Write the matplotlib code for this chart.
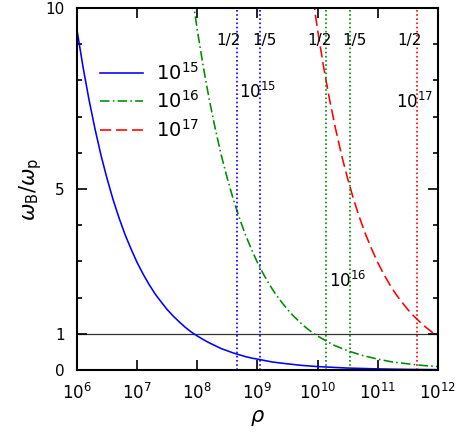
import numpy as np
import matplotlib
matplotlib.use("Agg")
import matplotlib.pyplot as plt
from matplotlib.ticker import FixedLocator, LogFormatterMathtext, NullLocator

# ---------- data ----------
# log10(rho) and omega_B/omega_p for the three field strengths
logrho_15 = [6.0, 6.1, 6.2, 6.3, 6.4, 6.5, 6.6, 6.7, 6.8, 6.9,
             7.0, 7.1, 7.2, 7.3, 7.4, 7.5, 7.6, 7.7, 7.8, 7.9,
             8.0, 8.1, 8.2, 8.3, 8.4, 8.5, 8.6, 8.7, 8.8, 8.9,
             9.0, 9.25, 9.5, 9.75, 10.0, 10.5, 11.0, 11.5, 12.0]
ratio_15 = [9.40, 8.38, 7.47, 6.66, 5.93, 5.29, 4.71, 4.20, 3.74, 3.34,
            2.97, 2.65, 2.36, 2.10, 1.88, 1.67, 1.49, 1.33, 1.18, 1.05,
            0.94, 0.84, 0.75, 0.67, 0.59, 0.53, 0.47, 0.42, 0.37, 0.33,
            0.30, 0.22, 0.17, 0.125, 0.094, 0.053, 0.030, 0.017, 0.009]

logrho_16 = [7.9, 8.0, 8.1, 8.2, 8.3, 8.4, 8.5, 8.6, 8.7, 8.8, 8.9,
             9.0, 9.1, 9.2, 9.3, 9.4, 9.5, 9.6, 9.7, 9.8, 9.9,
             10.0, 10.25, 10.5, 10.75, 11.0, 11.25, 11.5, 11.75, 12.0]
ratio_16 = [10.55, 9.40, 8.38, 7.47, 6.66, 5.93, 5.29, 4.71, 4.20, 3.74, 3.34,
            2.97, 2.65, 2.36, 2.10, 1.88, 1.67, 1.49, 1.33, 1.18, 1.05,
            0.94, 0.70, 0.53, 0.40, 0.30, 0.22, 0.17, 0.125, 0.094]

logrho_17 = [9.9, 10.0, 10.1, 10.2, 10.3, 10.4, 10.5, 10.6, 10.7, 10.8, 10.9,
             11.0, 11.1, 11.2, 11.3, 11.4, 11.5, 11.6, 11.7, 11.8, 11.9, 12.0]
ratio_17 = [10.55, 9.40, 8.38, 7.47, 6.66, 5.93, 5.29, 4.71, 4.20, 3.74, 3.34,
            2.97, 2.65, 2.36, 2.10, 1.88, 1.67, 1.49, 1.33, 1.18, 1.05, 0.94]

series_labels = [r"$10^{15}$", r"$10^{16}$", r"$10^{17}$"]

# vertical dotted markers (density where ratio hits 1/2 and 1/5)
vline_rho = [4.5e8, 1.1e9, 1.4e10, 3.5e10, 4.5e11]
vline_colors = ["blue", "blue", "#008a00", "#008a00", "red"]
frac_labels = ["1/2", "1/5", "1/2", "1/5", "1/2"]
frac_label_rho = [3.35e8, 1.33e9, 1.07e10, 4.15e10, 3.33e11]
frac_label_y = 9.1

# field labels inside the plot
field_text = [r"$10^{15}$", r"$10^{16}$", r"$10^{17}$"]
field_text_rho = [4.9e8, 1.58e10, 2.0e11]
field_text_y = [7.5, 2.3, 7.23]

xtick_vals = [1e6, 1e7, 1e8, 1e9, 1e10, 1e11, 1e12]
ytick_vals = [0, 1, 5, 10]
yminor_vals = [2, 3, 4, 6, 7, 8, 9]

# ---------- figure ----------
fig = plt.figure(figsize=(4.58, 4.44), dpi=100)
ax = fig.add_axes([0.168, 0.1667, 0.788, 0.8153])

ax.plot(10.0 ** np.array(logrho_15), ratio_15, color="blue", lw=1.15,
        label=series_labels[0])
ax.plot(10.0 ** np.array(logrho_16), ratio_16, color="#008a00", lw=1.15,
        ls=(0, (6, 2, 1, 2)), label=series_labels[1])
ax.plot(10.0 ** np.array(logrho_17), ratio_17, color="red", lw=1.15,
        ls=(0, (7, 3)), label=series_labels[2])

ax.axhline(1, color="#333333", lw=0.9, zorder=1)

for xv, c in zip(vline_rho, vline_colors):
    ax.axvline(xv, color=c, lw=1.2, ls=(0, (1, 1.5)))

for xv, t in zip(frac_label_rho, frac_labels):
    ax.text(xv, frac_label_y, t, ha="center", va="center", fontsize=11)

for xv, yv, t in zip(field_text_rho, field_text_y, field_text):
    ax.text(xv, yv, t, ha="left", va="baseline", fontsize=12)

ax.set_xscale("log")
ax.set_xlim(1e6, 1e12)
ax.set_ylim(0, 10)
ax.xaxis.set_major_locator(FixedLocator(xtick_vals))
ax.xaxis.set_major_formatter(LogFormatterMathtext())
ax.xaxis.set_minor_locator(NullLocator())
ax.yaxis.set_major_locator(FixedLocator(ytick_vals))
ax.yaxis.set_minor_locator(FixedLocator(yminor_vals))
ax.set_yticklabels([str(v) for v in ytick_vals])

ax.tick_params(which="both", direction="in", top=True, right=True, width=1.2)
ax.tick_params(which="major", length=7)
ax.tick_params(which="minor", length=3.6)
ax.tick_params(axis="x", labelsize=12, pad=9)
ax.tick_params(axis="y", labelsize=11, pad=9)
for s in ax.spines.values():
    s.set_linewidth(1.5)

ax.set_xlabel(r"$\rho$", fontsize=15, labelpad=4)
ax.set_ylabel(r"$\omega_{\rm B}/\omega_{\rm p}$", fontsize=15, labelpad=1)

ax.legend(loc="upper left", bbox_to_anchor=(0.015, 0.9), frameon=False,
          fontsize=14, handlelength=2.2, labelspacing=0.35, handletextpad=0.7)

fig.savefig("out.png", dpi=100)
